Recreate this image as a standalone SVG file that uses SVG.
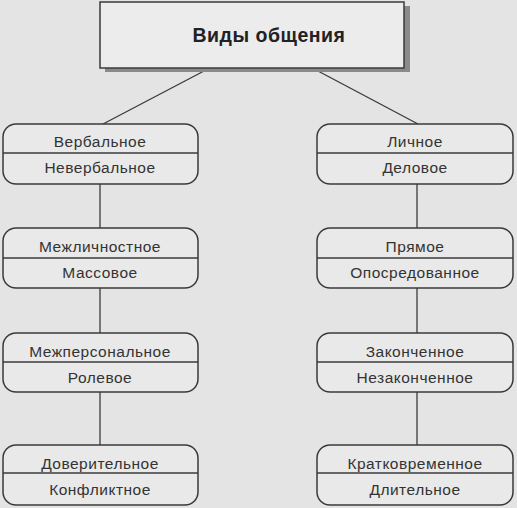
<svg xmlns="http://www.w3.org/2000/svg" width="517" height="508" viewBox="0 0 517 508">
<style>
.bg{fill:#e4e4e4}
.box{fill:#e9e9e9;stroke:#3a3a3a;stroke-width:1.5}
.div{stroke:#3a3a3a;stroke-width:1.3}
.t{font-family:"Liberation Sans",Arial,sans-serif;font-size:15.5px;letter-spacing:0.5px;fill:#333;text-anchor:middle}
.title{font-family:"Liberation Sans",Arial,sans-serif;font-size:19.5px;letter-spacing:0.5px;font-weight:bold;fill:#222;text-anchor:middle}
.c{stroke:#3a3a3a;stroke-width:1.3;fill:none}
</style>
<rect class="bg" x="0" y="0" width="517" height="508"/>
<g id="connectors">
<line class="c" x1="204" y1="71" x2="103" y2="124"/>
<line class="c" x1="318" y1="71" x2="418" y2="124"/>
<line class="c" x1="100" y1="184" x2="100" y2="228"/>
<line class="c" x1="100" y1="288" x2="100" y2="333"/>
<line class="c" x1="100" y1="392" x2="100" y2="445"/>
<line class="c" x1="417" y1="184" x2="417" y2="228"/>
<line class="c" x1="417" y1="288" x2="417" y2="333"/>
<line class="c" x1="417" y1="392" x2="417" y2="445"/>
</g>
<g id="title">
<rect x="105" y="6" width="305" height="66" fill="#8a8a8a"/>
<rect x="100" y="2" width="304" height="66" fill="#ececec" stroke="#3a3a3a" stroke-width="1.5"/>
<text class="title" x="269" y="42">Виды общения</text>
</g>
<g id="n1">
<rect class="box" x="3" y="124" width="195" height="60" rx="13"/>
<line class="div" x1="3" y1="153" x2="198" y2="153"/>
<text class="t" x="100" y="147">Вербальное</text>
<text class="t" x="100" y="173">Невербальное</text>
</g>
<g id="n2">
<rect class="box" x="3" y="228" width="195" height="60" rx="13"/>
<line class="div" x1="3" y1="258" x2="198" y2="258"/>
<text class="t" x="100" y="252">Межличностное</text>
<text class="t" x="100" y="278">Массовое</text>
</g>
<g id="n3">
<rect class="box" x="3" y="333" width="195" height="59" rx="13"/>
<line class="div" x1="3" y1="362" x2="198" y2="362"/>
<text class="t" x="100" y="357">Межперсональное</text>
<text class="t" x="100" y="383">Ролевое</text>
</g>
<g id="n4">
<rect class="box" x="3" y="445" width="195" height="60" rx="13"/>
<line class="div" x1="3" y1="473" x2="198" y2="473"/>
<text class="t" x="100" y="469">Доверительное</text>
<text class="t" x="100" y="495">Конфликтное</text>
</g>
<g id="n5">
<rect class="box" x="317" y="124" width="196" height="60" rx="13"/>
<line class="div" x1="317" y1="153" x2="513" y2="153"/>
<text class="t" x="415" y="147">Личное</text>
<text class="t" x="415" y="173">Деловое</text>
</g>
<g id="n6">
<rect class="box" x="317" y="228" width="196" height="60" rx="13"/>
<line class="div" x1="317" y1="258" x2="513" y2="258"/>
<text class="t" x="415" y="252">Прямое</text>
<text class="t" x="415" y="278">Опосредованное</text>
</g>
<g id="n7">
<rect class="box" x="317" y="333" width="196" height="59" rx="13"/>
<line class="div" x1="317" y1="362" x2="513" y2="362"/>
<text class="t" x="415" y="357">Законченное</text>
<text class="t" x="415" y="383">Незаконченное</text>
</g>
<g id="n8">
<rect class="box" x="317" y="445" width="196" height="60" rx="13"/>
<line class="div" x1="317" y1="473" x2="513" y2="473"/>
<text class="t" x="415" y="469">Кратковременное</text>
<text class="t" x="415" y="495">Длительное</text>
</g>
</svg>
